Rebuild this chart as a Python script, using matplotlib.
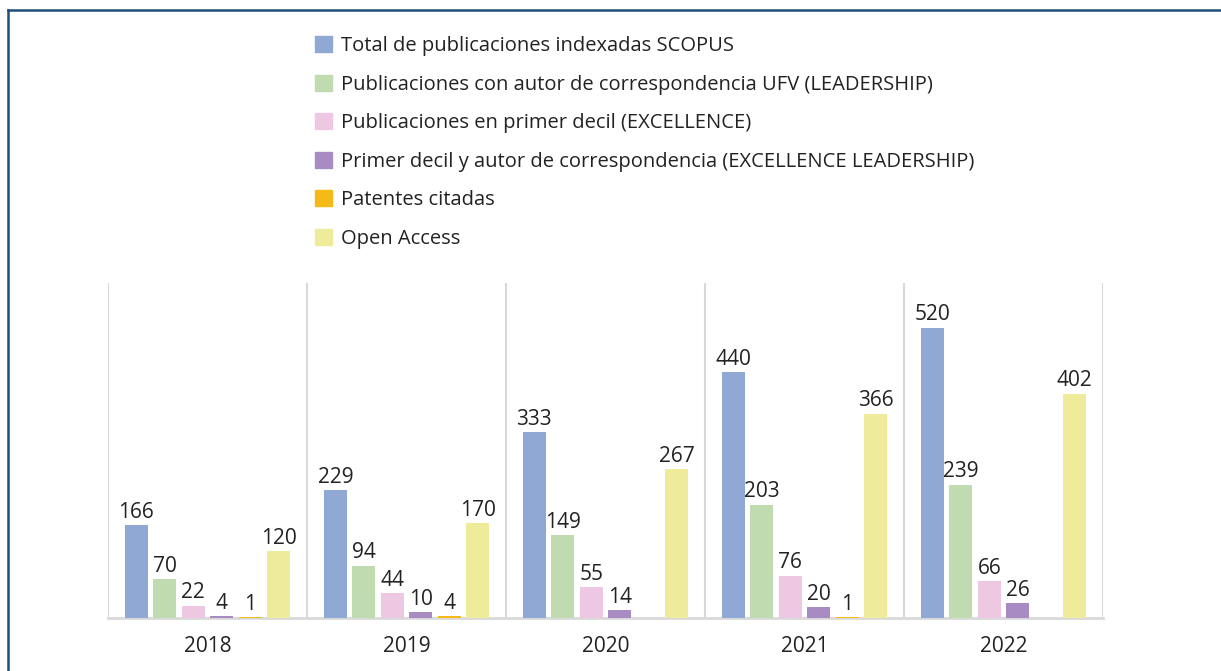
import matplotlib.pyplot as plt
import numpy as np
from matplotlib.patches import Patch
from matplotlib.lines import Line2D

years = ["2018", "2019", "2020", "2021", "2022"]
series = [
    "Total de publicaciones indexadas SCOPUS",
    "Publicaciones con autor de correspondencia UFV (LEADERSHIP)",
    "Publicaciones en primer decil (EXCELLENCE)",
    "Primer decil y autor de correspondencia (EXCELLENCE LEADERSHIP)",
    "Patentes citadas",
    "Open Access",
]
total = [166, 229, 333, 440, 520]
leadership = [70, 94, 149, 203, 239]
excellence = [22, 44, 55, 76, 66]
exc_leadership = [4, 10, 14, 20, 26]
patentes = [1, 4, 0, 1, 0]
open_access = [120, 170, 267, 366, 402]
values = [total, leadership, excellence, exc_leadership, patentes, open_access]
colors = ["#8FA8D4", "#C0DBB0", "#EEC8E2", "#A98BC3", "#F5B918", "#EEEC9A"]

plt.rcParams['font.family'] = ['Open Sans', 'DejaVu Sans']
fig = plt.figure(figsize=(12.21, 6.71), dpi=100)
W, H = 1221, 671
ax = fig.add_axes([108 / W, 1 - 618 / H, (1103 - 108) / W, (618 - 283) / H])

x = np.arange(len(years))
width = 0.116
step = 0.143
for i, (vals, col) in enumerate(zip(values, colors)):
    pos = x + (i - 2.5) * step
    ax.bar(pos, vals, width=width, color=col, zorder=3)
    for p, v in zip(pos, vals):
        if v > 0:
            ax.text(p, v + 4, str(v), ha='center', va='bottom', fontsize=15, color='#222222')

ax.set_xlim(-0.5, len(years) - 0.5)
ax.set_ylim(0, 600)
ax.set_yticks([])
ax.set_xticks(x)
ax.set_xticklabels(years, fontsize=15, color='#222222')
ax.tick_params(axis='x', length=0, pad=13)
for b in np.arange(-0.5, len(years), 1.0):
    ax.axvline(b, color='#D9D9D9', lw=1.5, zorder=1)
for s in ['top', 'left', 'right']:
    ax.spines[s].set_visible(False)
ax.spines['bottom'].set_color('#D9D9D9')
ax.spines['bottom'].set_linewidth(2)

handles = [Patch(color=c) for c in colors]
fig.legend(handles, series, loc='upper left', bbox_to_anchor=(297 / W, 1 - 18 / H),
           frameon=False, fontsize=14.5, handlelength=0.85, handleheight=0.85,
           handletextpad=0.45, labelspacing=0.92, labelcolor='#222222')

# outer frame
fig.add_artist(Line2D([8 / W, 1.0], [1 - 10 / H, 1 - 10 / H], color='#1F4E79', lw=1.8))
fig.add_artist(Line2D([8 / W, 8 / W], [0, 1 - 10 / H], color='#1F4E79', lw=1.8))

fig.savefig("out.png", dpi=100)
